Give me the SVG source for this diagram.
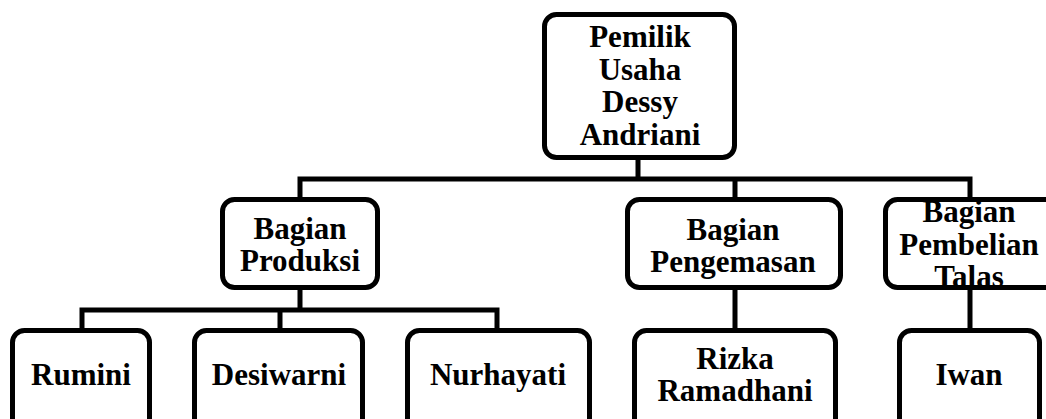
<svg xmlns="http://www.w3.org/2000/svg" width="1046" height="419" viewBox="0 0 1046 419">
<style>
.box{fill:#fff;stroke:#000;stroke-width:5}
.t{font-family:"Liberation Serif","Times New Roman",serif;font-weight:bold;font-size:31px;fill:#000;text-anchor:middle}
.c{fill:none;stroke:#000;stroke-width:5;stroke-linecap:square}
</style>
<rect width="1046" height="419" fill="#fff"/>
<g id="connectors">
<path class="c" d="M638 160V179M300 179H970M300 179V198M735 179V198M970 179V198"/>
<path class="c" d="M300 290V310M82 310H497M82 310V328M280 310V328M497 310V328"/>
<path class="c" d="M735 290V328M970 290V328"/>
</g>
<g id="owner">
<rect class="box" x="544.5" y="14.5" width="190" height="143" rx="12"/>
<text class="t" x="640" y="47">Pemilik</text>
<text class="t" x="640" y="80">Usaha</text>
<text class="t" x="640" y="112">Dessy</text>
<text class="t" x="640" y="145">Andriani</text>
</g>
<g id="produksi">
<rect class="box" x="222.5" y="199.5" width="155" height="88" rx="12"/>
<text class="t" x="300" y="239">Bagian</text>
<text class="t" x="300" y="271">Produksi</text>
</g>
<g id="pengemasan">
<rect class="box" x="627.5" y="199.5" width="213" height="88" rx="12"/>
<text class="t" x="733" y="240">Bagian</text>
<text class="t" x="733" y="272">Pengemasan</text>
</g>
<g id="pembelian">
<rect class="box" x="885.5" y="199.5" width="200" height="88" rx="12"/>
<text class="t" x="969" y="222">Bagian</text>
<text class="t" x="969" y="255">Pembelian</text>
<text class="t" x="969" y="287">Talas</text>
</g>
<g id="rumini">
<rect class="box" x="12.5" y="330.5" width="137" height="120" rx="12"/>
<text class="t" x="81" y="385">Rumini</text>
</g>
<g id="desiwarni">
<rect class="box" x="194.5" y="330.5" width="168" height="120" rx="12"/>
<text class="t" x="279" y="385">Desiwarni</text>
</g>
<g id="nurhayati">
<rect class="box" x="407.5" y="330.5" width="182" height="120" rx="12"/>
<text class="t" x="498" y="385">Nurhayati</text>
</g>
<g id="rizka">
<rect class="box" x="634.5" y="330.5" width="201" height="120" rx="12"/>
<text class="t" x="735" y="369">Rizka</text>
<text class="t" x="735" y="401">Ramadhani</text>
</g>
<g id="iwan">
<rect class="box" x="899.5" y="330.5" width="140" height="120" rx="12"/>
<text class="t" x="969" y="385">Iwan</text>
</g>
</svg>
